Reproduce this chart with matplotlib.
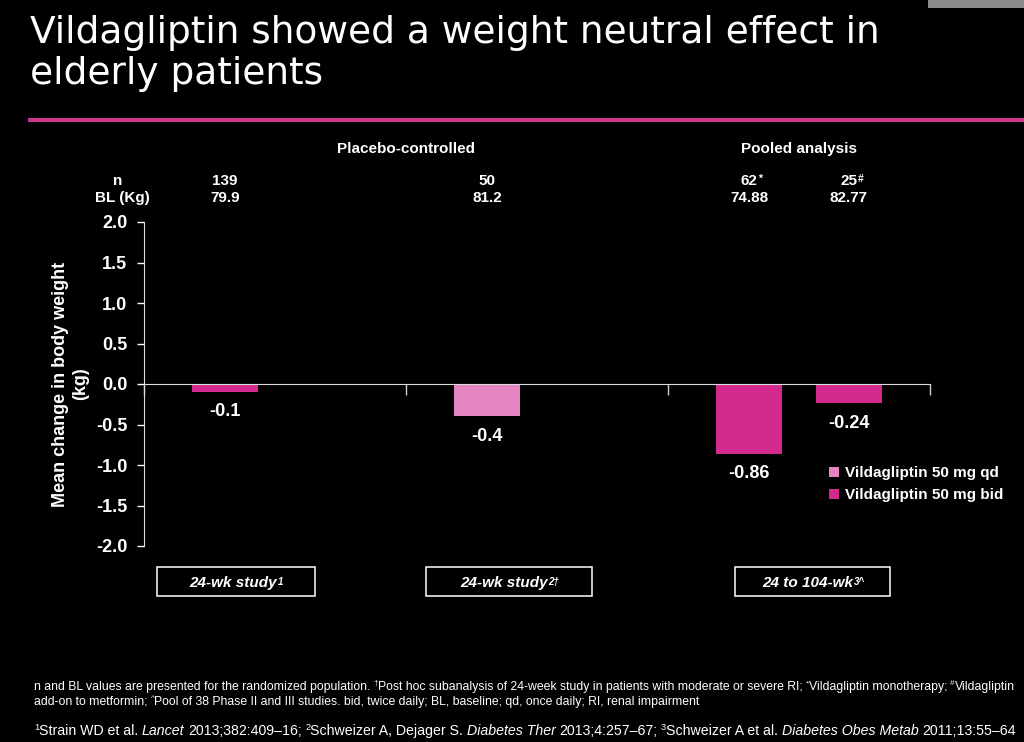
import numpy as np
import matplotlib
matplotlib.use('Agg')
import matplotlib.pyplot as plt
from matplotlib.patches import Patch, Rectangle
from matplotlib.transforms import blended_transform_factory
from matplotlib import font_manager

# ---------------- data ----------------
study_labels = ['24-wk study', '24-wk study', '24 to 104-wk']
study_sups = ['1', '2\u2020', '3^']
left_values = [-0.10, -0.40, -0.86]
left_regimen = ['bid', 'qd', 'bid']
right_values = [np.nan, np.nan, -0.24]
right_regimen = ['bid', 'bid', 'bid']
n_left = ['139', '50', '62']
n_left_sup = ['', '', '*']
n_right = ['', '', '25']
n_right_sup = ['', '', '#']
bl_left = ['79.9', '81.2', '74.88']
bl_right = ['', '', '82.77']
section_labels = ['Placebo-controlled', 'Pooled analysis']
regimens = ['qd', 'bid']
legend_labels = ['Vildagliptin 50 mg qd', 'Vildagliptin 50 mg bid']
y_ticks = [-2.0, -1.5, -1.0, -0.5, 0.0, 0.5, 1.0, 1.5, 2.0]
y_tick_labels = ['-2.0', '-1.5', '-1.0', '-0.5', '0.0', '0.5', '1.0', '1.5', '2.0']

# ---------------- style ----------------
COL = {'qd': '#E585C2', 'bid': '#D42A8E'}
PINK_LINE = '#D23590'
names = {f.name for f in font_manager.fontManager.ttflist}
HAS_NARROW = 'Liberation Sans Narrow' in names
NARROW = ['Liberation Sans Narrow', 'Liberation Sans', 'DejaVu Sans'] if HAS_NARROW else ['Liberation Sans', 'DejaVu Sans']
FOOT_SIZE = 10.6 if HAS_NARROW else 8.8
REF_SIZE = 12.3 if HAS_NARROW else 10.2
plt.rcParams['font.family'] = ['Liberation Sans', 'DejaVu Sans']

W, H = 1024, 742
fig = plt.figure(figsize=(W / 100, H / 100), dpi=100, facecolor='black')

# overlay axes in pixel coordinates (y downwards) for slide annotations
ov = fig.add_axes([0, 0, 1, 1], zorder=5)
ov.set_xlim(0, W)
ov.set_ylim(H, 0)
ov.axis('off')

# ---------------- main chart ----------------
ax = fig.add_axes([144 / W, 1 - 546 / H, 786 / W, 324 / H], zorder=1)
ax.set_facecolor('none')
x = np.arange(len(study_labels))
off, bw = 0.19, 0.25

lv = np.array(left_values, dtype=float)
rv = np.array(right_values, dtype=float)
ml = ~np.isnan(lv)
mr = ~np.isnan(rv)
ax.bar((x - off)[ml], lv[ml], bw, color=[COL[r] for r, m in zip(left_regimen, ml) if m], zorder=2)
ax.bar((x + off)[mr], rv[mr], bw, color=[COL[r] for r, m in zip(right_regimen, mr) if m], zorder=2)

for xs, vals in ((x - off, lv), (x + off, rv)):
    for xi, v in zip(xs, vals):
        if np.isnan(v):
            continue
        ax.annotate(f'{v:g}', (xi, v), xytext=(0, -8), textcoords='offset points',
                    ha='center', va='top', color='white', fontsize=13, fontweight='bold')

ax.set_xlim(-0.5, 2.5)
ax.set_ylim(-2, 2)
ax.set_yticks(y_ticks, y_tick_labels, fontweight='bold')
ax.set_xticks([-0.5, 0.5, 1.5, 2.5], labels=[])
ax.tick_params(axis='y', colors='white', length=5, width=1, pad=7, labelsize=13)
ax.tick_params(axis='x', colors='#d0d0d0', length=8, width=1)
for s in ('top', 'right'):
    ax.spines[s].set_visible(False)
ax.spines['left'].set_color('#dddddd')
ax.spines['bottom'].set_color('#dddddd')
ax.spines['bottom'].set_position(('data', 0))
ax.set_ylabel('Mean change in body weight\n(kg)', color='white', fontsize=13, fontweight='bold')
ax.yaxis.set_label_coords(-0.07, 0.5)

# legend
handles = [Patch(facecolor=COL[r], edgecolor='none') for r in regimens]
leg = fig.legend(handles, legend_labels, loc='upper left', bbox_to_anchor=(829 / W, 1 - 466 / H),
                 bbox_transform=fig.transFigure, frameon=False, handlelength=0.65, handleheight=0.65,
                 handletextpad=0.4, borderaxespad=0, borderpad=0, labelspacing=0.55,
                 prop={'size': 11, 'weight': 'bold'})
for t in leg.get_texts():
    t.set_color('white')

# header rows (n and BL)
hdr = blended_transform_factory(ax.transData, ov.transData)
ov.text(118, 185, 'n', ha='center', va='baseline', color='white', fontsize=11, fontweight='bold')
ov.text(122, 202, 'BL (Kg)', ha='center', va='baseline', color='white', fontsize=11, fontweight='bold')
ax.text(0.5, 153, section_labels[0], transform=hdr, ha='center', va='baseline',
        color='white', fontsize=11, fontweight='bold')
ax.text(2.0, 153, section_labels[1], transform=hdr, ha='center', va='baseline',
        color='white', fontsize=11, fontweight='bold')


def header_value(xd, txt, sup, yb):
    if not txt:
        return
    t = ax.text(xd, yb, txt, transform=hdr, ha='center', va='baseline',
                color='white', fontsize=11, fontweight='bold')
    if sup:
        ax.annotate(sup, xy=(1, 1), xycoords=t, xytext=(0.5, 0), textcoords='offset points',
                    ha='left', va='top', color='white', fontsize=7.5, fontweight='bold')


for i in range(len(study_labels)):
    header_value(x[i] - off, n_left[i], n_left_sup[i], 185)
    header_value(x[i] + off, n_right[i], n_right_sup[i], 185)
    header_value(x[i] - off, bl_left[i], '', 202)
    header_value(x[i] + off, bl_right[i], '', 202)

# study boxes under the chart
box_x0 = [157, 426, 735]
box_w = [158, 166, 155]
for i, (lbl, sup) in enumerate(zip(study_labels, study_sups)):
    ov.add_patch(Rectangle((box_x0[i], 567), box_w[i], 29, fill=False, ec='white', lw=1.1))
    cx = box_x0[i] + box_w[i] / 2 - 3 - 2 * (len(sup) - 1)
    t = ov.text(cx, 587, lbl, ha='center', va='baseline', color='white', fontsize=11,
                fontweight='bold', fontstyle='italic')
    ov.annotate(sup, xy=(1, 1), xycoords=t, xytext=(0.5, -1), textcoords='offset points',
                ha='left', va='top', color='white', fontsize=7, fontweight='bold', fontstyle='italic')

# ---------------- title ----------------
ov.text(30, 15, 'Vildagliptin showed a weight neutral effect in\nelderly patients', ha='left', va='top',
        color='white', fontsize=27, family='DejaVu Sans', linespacing=1.17)
ov.add_patch(Rectangle((28, 118), W - 28, 4, color=PINK_LINE, lw=0))
ov.add_patch(Rectangle((928, 0), W - 928, 8, color='#8c8c8c', lw=0))


# ---------------- footnotes ----------------
def rich(x0, yb, parts, size):
    prev = None
    for text, kind in parts:
        gap = text.startswith(' ')
        text = text.strip()
        fs = size * 0.65 if kind == 's' else size
        style = 'italic' if kind == 'i' else 'normal'
        dx = 0.25 * size if gap else 0
        dy = 0.38 * size if kind == 's' else 0
        if prev is None:
            a = ov.annotate(text, xy=(x0, yb), xycoords='data', xytext=(dx, dy), textcoords='offset points',
                            ha='left', va='baseline', color='white', fontsize=fs, fontstyle=style, family=NARROW)
        else:
            a = ov.annotate(text, xy=(1, yb), xycoords=(prev, 'data'), xytext=(dx, dy),
                            textcoords='offset points', ha='left', va='baseline', color='white',
                            fontsize=fs, fontstyle=style, family=NARROW)
        prev = a


line1 = [('n and BL values are presented for the randomized population.', 'n'), (' \u2020', 's'),
         ('Post hoc subanalysis of 24-week study in patients with moderate or severe RI;', 'n'), (' *', 's'),
         ('Vildagliptin monotherapy;', 'n'), (' #', 's'), ('Vildagliptin', 'n')]
line2 = [('add-on to metformin;', 'n'), (' ^', 's'),
         ('Pool of 38 Phase II and III studies. bid, twice daily; BL, baseline; qd, once daily; RI, renal impairment', 'n')]
line3 = [('1', 's'), ('Strain WD et al.', 'n'), (' Lancet', 'i'), (' 2013;382:409\u201316;', 'n'), (' 2', 's'),
         ('Schweizer A, Dejager S.', 'n'), (' Diabetes Ther', 'i'), (' 2013;4:257\u201367;', 'n'), (' 3', 's'),
         ('Schweizer A et al.', 'n'), (' Diabetes Obes Metab', 'i'), (' 2011;13:55\u201364', 'n')]
rich(34, 690, line1, FOOT_SIZE)
rich(34, 705, line2, FOOT_SIZE)
rich(34, 735, line3, REF_SIZE)

fig.savefig('out.png', dpi=100, facecolor='black')
